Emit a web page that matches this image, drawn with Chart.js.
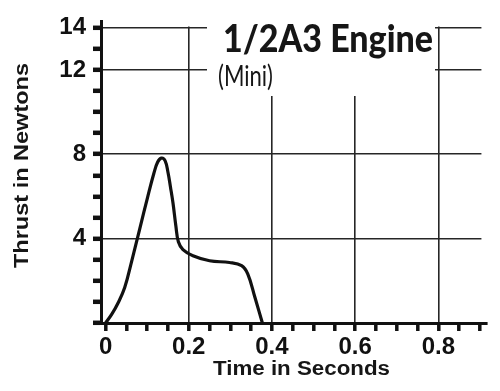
<!DOCTYPE html>
<html><head><meta charset="utf-8">
<script src="https://cdn.jsdelivr.net/npm/chart.js@4/dist/chart.umd.min.js"></script>
<style>html,body{margin:0;padding:0;background:#fff}canvas{display:block}</style>
</head><body>
<canvas id="c" width="500" height="391"></canvas>
<script>
// ---- data ----
const timeSec = [0, 0.015, 0.030, 0.046, 0.063, 0.082, 0.101, 0.116, 0.125, 0.134, 0.143, 0.150, 0.156, 0.162, 0.169, 0.175, 0.186, 0.210, 0.250, 0.298, 0.327, 0.342, 0.359, 0.377];
const thrustN = [0, 0.42, 0.95, 1.68, 2.95, 4.45, 5.96, 7.09, 7.62, 7.82, 7.70, 7.15, 6.45, 5.70, 4.60, 3.85, 3.48, 3.19, 2.95, 2.87, 2.72, 2.32, 1.22, 0];
const xTickValues = [0, 0.05, 0.1, 0.15, 0.2, 0.25, 0.3, 0.35, 0.4, 0.45, 0.5, 0.55, 0.6, 0.65, 0.7, 0.75, 0.8, 0.85, 0.9];
const xTickLabels = ['0', '', '', '', '0.2', '', '', '', '0.4', '', '', '', '0.6', '', '', '', '0.8', '', ''];
const yTickValues = [0, 1, 2, 3, 4, 5, 6, 7, 8, 9, 10, 11, 12, 13, 14];
const yTickLabels = ['', '', '', '', '4', '', '', '', '8', '', '', '', '12', '', '14'];
const xGridValues = [0.2, 0.4, 0.6, 0.8];
const yGridValues = [4, 8, 12, 14];
const chartTitle = '1/2A3 Engine';
const chartSubtitle = '(Mini)';
const xAxisTitle = 'Time in Seconds';
const yAxisTitle = 'Thrust in Newtons';

function fitText(ctx, text, x, y, font, width, align) {
  ctx.save();
  ctx.font = font;
  const w = ctx.measureText(text).width;
  const s = width / w;
  ctx.translate(x, y);
  ctx.scale(s, 1);
  ctx.textAlign = align;
  ctx.textBaseline = 'alphabetic';
  ctx.fillText(text, 0, 0);
  ctx.restore();
}

const decor = {
  id: 'decor',
  beforeDatasetsDraw(chart) {
    const { ctx, chartArea: a, scales: { x, y } } = chart;
    const x09 = x.getPixelForValue(0.9);
    const y14 = y.getPixelForValue(14);
    const y0 = y.getPixelForValue(0);
    ctx.save();
    ctx.fillStyle = '#fff';
    ctx.fillRect(x09 + 1.5, a.top - 5, a.right - x09 + 10, (y0 - 2) - (a.top - 5));
    ctx.fillRect(a.left + 2, a.top - 5, a.right - a.left, (y14 - 1.2) - (a.top - 5));
    ctx.fillRect(207, y14 - 2, 228, 96 - (y14 - 2));
    ctx.restore();
  },
  afterDraw(chart) {
    const ctx = chart.ctx;
    ctx.save();
    ctx.fillStyle = '#161616';
    fitText(ctx, chartTitle, 223, 52, '900 38px Lato', 210, 'left');
    fitText(ctx, chartSubtitle, 218, 86, '28px Lato', 55, 'left');
    fitText(ctx, xAxisTitle, 301.5, 375, 'bold 20px "Liberation Sans", Arial', 177, 'center');
    ctx.translate(27.5, 165.5);
    ctx.rotate(-Math.PI / 2);
    fitText(ctx, yAxisTitle, 0, 0, 'bold 20px "Liberation Sans", Arial', 205, 'center');
    ctx.restore();
  }
};

const tickFont = { family: '"Liberation Sans", Arial, sans-serif', size: 24, weight: 'bold' };

new Chart(document.getElementById('c'), {
  type: 'line',
  data: {
    datasets: [{
      data: timeSec.map((t, i) => ({ x: t, y: thrustN[i] })),
      borderColor: '#111',
      borderWidth: 3.2,
      pointRadius: 0,
      tension: 0.4,
      fill: false
    }]
  },
  options: {
    responsive: false,
    animation: false,
    layout: { padding: { top: 18, right: 13, left: 0, bottom: 0 } },
    plugins: { legend: { display: false }, tooltip: { enabled: false } },
    scales: {
      x: {
        type: 'linear', min: -0.011, max: 0.917,
        afterBuildTicks: s => { s.ticks = xTickValues.map(v => ({ value: v })); },
        afterFit: s => { s.height = 68; },
        ticks: {
          autoSkip: false, maxRotation: 0, minRotation: 0, padding: 2, color: '#111', font: tickFont,
          callback: (v, i) => xTickLabels[i]
        },
        grid: {
          color: c => (c.tick && xGridValues.includes(c.tick.value)) ? '#262626' : 'rgba(0,0,0,0)',
          lineWidth: 1.6, drawTicks: true, tickLength: 8, tickWidth: 3.5, tickColor: '#111'
        },
        border: { display: true, color: '#111', width: 3 }
      },
      y: {
        type: 'linear', min: 0, max: 14.3,
        afterBuildTicks: s => { s.ticks = yTickValues.map(v => ({ value: v })); },
        afterFit: s => { s.width = 101; },
        ticks: {
          autoSkip: false, padding: 7, color: '#111', font: tickFont,
          callback: (v, i) => yTickLabels[i]
        },
        grid: {
          color: c => (c.tick && yGridValues.includes(c.tick.value)) ? '#262626' : 'rgba(0,0,0,0)',
          lineWidth: 1.6, drawTicks: true, tickLength: 8, tickWidth: 4.5, tickColor: '#111'
        },
        border: { display: true, color: '#111', width: 3 }
      }
    }
  },
  plugins: [decor]
});
</script>
</body></html>
